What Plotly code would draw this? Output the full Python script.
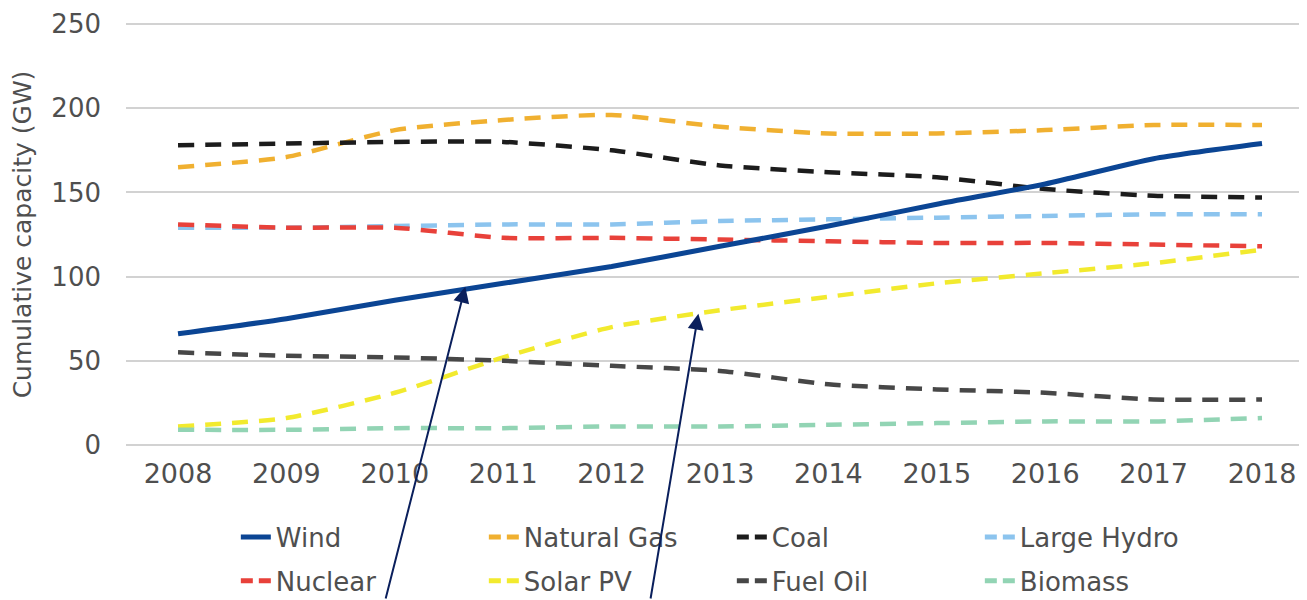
import plotly.graph_objects as go

years = [2008, 2009, 2010, 2011, 2012, 2013, 2014, 2015, 2016, 2017, 2018]

wind = [66, 75, 86, 96, 106, 118, 130, 143, 155, 170, 179]
natural_gas = [165, 171, 187, 193, 196, 189, 185, 185, 187, 190, 190]
coal = [178, 179, 180, 180, 175, 166, 162, 159, 152, 148, 147]
large_hydro = [129, 129, 130, 131, 131, 133, 134, 135, 136, 137, 137]
nuclear = [131, 129, 129, 123, 123, 122, 121, 120, 120, 119, 118]
solar_pv = [11, 16, 31, 52, 70, 80, 88, 96, 102, 108, 116]
fuel_oil = [55, 53, 52, 50, 47, 44, 36, 33, 31, 27, 27]
biomass = [9, 9, 10, 10, 11, 11, 12, 13, 14, 14, 16]

y_ticks = [0, 50, 100, 150, 200, 250]

FONT = "DejaVu Sans"
GREY = "#4f4f4f"

# (name, values, colour, dashed, legend)
series = [
    ("Wind", wind, "#0b4594", False, "legend"),
    ("Natural Gas", natural_gas, "#f0b030", True, "legend"),
    ("Coal", coal, "#1c1c1c", True, "legend"),
    ("Large Hydro", large_hydro, "#8cc4ee", True, "legend"),
    ("Nuclear", nuclear, "#e8413a", True, "legend2"),
    ("Solar PV", solar_pv, "#f2ea2e", True, "legend2"),
    ("Fuel Oil", fuel_oil, "#474747", True, "legend2"),
    ("Biomass", biomass, "#92d4b4", True, "legend2"),
]

fig = go.Figure()

# real lines (dashed first, wind on top), no legend entry
for name, vals, col, dashed, leg in series[1:] + series[:1]:
    fig.add_trace(go.Scatter(
        x=years, y=vals, name=name, mode="lines", showlegend=False,
        line=dict(color=col, width=4.5 if dashed else 5,
                  dash="16px,11px" if dashed else "solid",
                  shape="spline", smoothing=0.6),
    ))

# legend-only entries so the key shows two short dashes
for name, vals, col, dashed, leg in series:
    fig.add_trace(go.Scatter(
        x=[None], y=[None], name=name, mode="lines", legend=leg,
        line=dict(color=col, width=5, dash="12px,6px" if dashed else "solid"),
    ))

# two arrows coming up from below the chart
fig.add_annotation(x=2010.65, y=94, ax=-80, ay=320, xref="x", yref="y",
                   text="", showarrow=True, arrowhead=2, arrowsize=1.6,
                   arrowwidth=2, arrowcolor="#0a1f5c")
fig.add_annotation(x=2012.8, y=78, ax=-48, ay=292, xref="x", yref="y",
                   text="", showarrow=True, arrowhead=2, arrowsize=1.6,
                   arrowwidth=2, arrowcolor="#0a1f5c")

leg_common = dict(orientation="h", xanchor="left", yanchor="middle",
                  x=0.093, entrywidth=203,
                  font=dict(family=FONT, size=26, color=GREY),
                  bgcolor="rgba(0,0,0,0)", itemclick=False)

# page body has an 8px margin, so the figure is sized to fit the window
fig.update_layout(
    width=1299, height=592,
    margin=dict(l=118, r=0, t=14, b=153, autoexpand=False),
    paper_bgcolor="white", plot_bgcolor="white",
    font=dict(family=FONT, color=GREY),
    legend=dict(y=-0.212, **leg_common),
    legend2=dict(y=-0.315, **leg_common),
    xaxis=dict(range=[2007.52, 2018.415], tickvals=years,
               showgrid=False, zeroline=False, showline=False,
               tickfont=dict(family=FONT, size=27, color=GREY),
               ticklabelstandoff=8, ticklabeloverflow="allow"),
    yaxis=dict(range=[-1.2, 251.2], tickvals=y_ticks, showgrid=True,
               gridcolor="#d2d2d2", gridwidth=2, zeroline=False, showline=False,
               tickfont=dict(family=FONT, size=26, color=GREY),
               ticklabelstandoff=24, ticklabeloverflow="allow",
               title=dict(text="Cumulative capacity (GW)", standoff=18,
                          font=dict(family=FONT, size=25, color=GREY))),
)

fig.write_html("out.html")
